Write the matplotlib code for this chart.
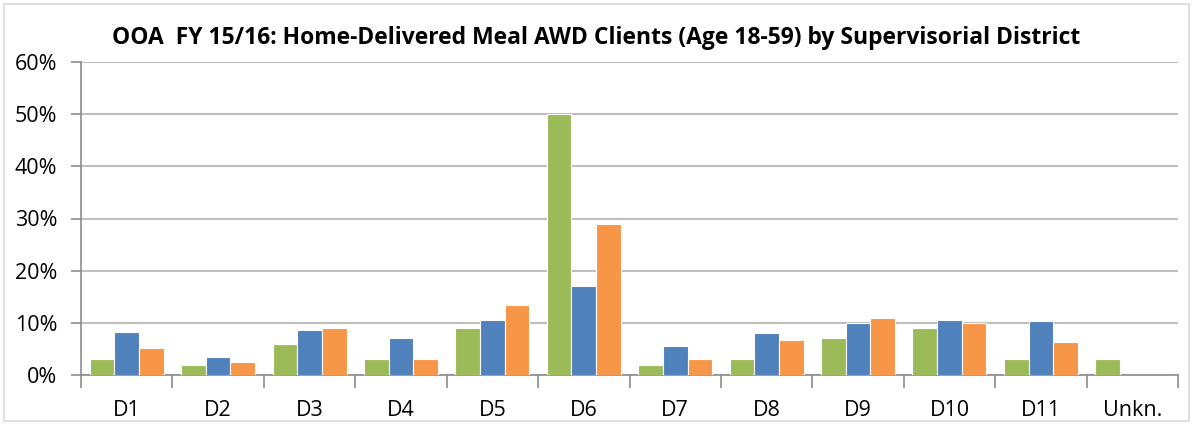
import matplotlib
matplotlib.use("Agg")
import matplotlib.pyplot as plt
import numpy as np
from matplotlib.patches import Rectangle
from matplotlib.ticker import FuncFormatter, FixedLocator

# Дані
districts = ["D1", "D2", "D3", "D4", "D5", "D6", "D7", "D8", "D9", "D10", "D11", "Unkn."]
green_vals = [3.0, 2.0, 6.0, 3.0, 9.0, 50.0, 2.0, 3.0, 7.0, 9.0, 3.0, 3.0]
blue_vals = [8.3, 3.4, 8.6, 7.1, 10.5, 17.0, 5.5, 8.0, 9.9, 10.6, 10.4, 0.0]
orange_vals = [5.1, 2.4, 9.0, 3.0, 13.5, 29.0, 3.0, 6.7, 11.0, 10.0, 6.4, 0.0]

title = "OOA  FY 15/16: Home-Delivered Meal AWD Clients (Age 18-59) by Supervisorial District"

plt.rcParams["font.family"] = ["Open Sans", "DejaVu Sans"]

fig = plt.figure(figsize=(11.93, 4.25), dpi=100)
ax = fig.add_axes([81 / 1193, 1 - 375 / 425, 1097 / 1193, 313 / 425])

# Рамка навколо діаграми
fig.patches.append(Rectangle((4 / 1193, 4 / 425), 1185 / 1193, 417 / 425,
                             transform=fig.transFigure, fill=False,
                             edgecolor="#D9D9D9", linewidth=1.2))

x = np.arange(len(districts))
w = 0.27
series = [(green_vals, "#9BBB59", -w), (blue_vals, "#4F81BD", 0), (orange_vals, "#F79646", w)]
for vals, color, off in series:
    ax.bar(x + off, vals, width=w, color=color, edgecolor="white", linewidth=0.8, zorder=3)

ax.set_xlim(-0.5, len(districts) - 0.5)
ax.set_ylim(0, 60)
ax.set_yticks(np.arange(0, 61, 10))
ax.yaxis.set_major_formatter(FuncFormatter(lambda v, p: f"{int(v)}%"))
ax.grid(axis="y", color="#BFBFBF", linewidth=1.5, zorder=0)

# Мітки категорій по центру, риски між категоріями
ax.set_xticks(x)
ax.set_xticklabels(districts)
ax.xaxis.set_minor_locator(FixedLocator(np.arange(-0.5, len(districts), 1.0)))
ax.tick_params(axis="x", which="major", length=0, labelsize=15.5, pad=18)
ax.tick_params(axis="x", which="minor", length=9, width=1.2, color="#8C8C8C")
ax.tick_params(axis="y", length=7, width=1.2, color="#8C8C8C", labelsize=15.5, pad=10)

for s in ["top", "right"]:
    ax.spines[s].set_visible(False)
for s in ["left", "bottom"]:
    ax.spines[s].set_color("#8C8C8C")
    ax.spines[s].set_linewidth(1.2)

fig.text(0.5, 1 - 38 / 425, title, ha="center", va="center",
         fontsize=16.5, fontweight="bold")

fig.savefig("out.png", dpi=100)
